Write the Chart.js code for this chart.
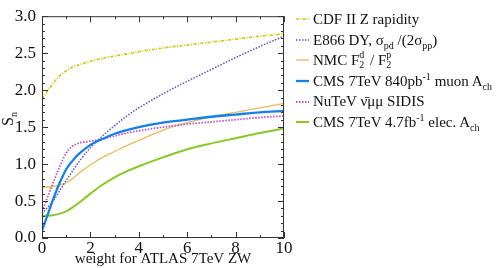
<!DOCTYPE html>
<html><head><meta charset="utf-8">
<script src="https://cdn.jsdelivr.net/npm/chart.js@4"></script>
<style>
html,body{margin:0;padding:0;background:#fff;}
#wrap{position:relative;width:498px;height:268px;font-family:"Liberation Serif","DejaVu Serif","Times New Roman",serif;color:#111;overflow:hidden;}
#c{position:absolute;left:0;top:0;}
#legend{position:absolute;left:296px;top:9px;font-size:15px;}
.row{height:20.6px;line-height:20.6px;display:flex;align-items:center;white-space:nowrap;}
.row svg{margin-right:4px;flex:none;}
sub,sup{font-size:10px;line-height:0;}
.ss{position:relative;display:inline-block;width:7px;height:10px;}
.ss .u,.ss .l{position:absolute;left:0;font-size:10px;line-height:10px;}
.ss .u{top:-5px;}
.ss .l{top:5px;}
#ytitle{position:absolute;left:1px;top:110px;font-size:16px;transform:rotate(-90deg);transform-origin:center;white-space:nowrap;}
</style></head>
<body>
<div id="wrap">
<canvas id="c" width="498" height="268"></canvas>
<div id="legend"></div>
<div id="ytitle">S<sub>n</sub></div>
</div>
<script>
const weights = [0,0.25,0.5,0.75,1,1.25,1.5,2,2.5,3,3.5,4,5,6,7,8,9,10];
const cdfZ    = [1.88,2.00,2.11,2.20,2.26,2.31,2.34,2.39,2.43,2.46,2.49,2.52,2.57,2.61,2.65,2.69,2.73,2.76];
const e866    = [0.33,0.42,0.52,0.65,0.78,0.90,1.02,1.22,1.38,1.52,1.65,1.76,1.95,2.12,2.28,2.44,2.59,2.73];
const nmc     = [0.69,0.69,0.70,0.72,0.75,0.80,0.87,0.99,1.09,1.17,1.25,1.32,1.46,1.56,1.64,1.70,1.76,1.82];
const cmsMu   = [0.10,0.33,0.56,0.76,0.93,1.04,1.13,1.26,1.34,1.41,1.46,1.50,1.56,1.60,1.64,1.67,1.70,1.72];
const nutev   = [0.36,0.57,0.78,0.98,1.15,1.24,1.28,1.31,1.34,1.38,1.42,1.45,1.50,1.54,1.57,1.60,1.63,1.65];
const cmsEl   = [0.30,0.30,0.31,0.33,0.36,0.41,0.47,0.60,0.72,0.82,0.90,0.97,1.09,1.20,1.28,1.35,1.42,1.48];
const yTicks  = [0,0.5,1,1.5,2,2.5,3];
const xTicks  = [0,2,4,6,8,10];
const legendHtml = [
  'CDF II Z rapidity',
  'E866 DY, &sigma;<sub>pd</sub> /(2&sigma;<sub>pp</sub>)',
  'NMC F<span class="ss"><span class="u">d</span><span class="l">2</span></span> / F<span class="ss"><span class="u">p</span><span class="l">2</span></span>',
  'CMS 7TeV 840pb<sup>-1</sup> muon A<sub>ch</sub>',
  'NuTeV &nu;&#772;&mu;&mu; SIDIS',
  'CMS 7TeV 4.7fb<sup>-1</sup> elec. A<sub>ch</sub>'
];
const seriesList = [cdfZ, e866, nmc, cmsMu, nutev, cmsEl];
const styles = [
  {color:'#c9c900', width:1.6, dash:[3,1.5,1,1.5]},
  {color:'#5c54cc', width:1.5, dash:[1.5,1.5]},
  {color:'#e9bb62', width:1.3, dash:[]},
  {color:'#1580e8', width:2.3, dash:[]},
  {color:'#c44fc4', width:1.8, dash:[1.5,1.5]},
  {color:'#88c926', width:2.0, dash:[]}
];
const FONT = "'Liberation Serif', 'DejaVu Serif', 'Times New Roman', serif";
const datasets = seriesList.map((s,i)=>({
  label:'s'+i,
  data: weights.map((w,j)=>({x:w,y:s[j]})),
  borderColor: styles[i].color,
  borderWidth: styles[i].width,
  borderDash: styles[i].dash,
  pointRadius:0,
  fill:false,
  cubicInterpolationMode:'monotone'
}));
const drawOrder = [5,2,4,1,3,0];
drawOrder.forEach((d,k)=>{datasets[d].order = 6-k;});

const frame = {
  id:'frame',
  afterDatasetsDraw(chart){
    const {ctx, chartArea:a, scales:{x,y}} = chart;
    ctx.save();
    ctx.strokeStyle='#333'; ctx.lineWidth=1;
    ctx.strokeRect(a.left+0.5,a.top+0.5,a.right-a.left-1,a.bottom-a.top-1);
    ctx.beginPath();
    for(let v=0; v<=10; v++){
      const px = Math.round(x.getPixelForValue(v))+0.5;
      const L = v%2===0?6:3;
      ctx.moveTo(px,a.bottom); ctx.lineTo(px,a.bottom-L);
      ctx.moveTo(px,a.top); ctx.lineTo(px,a.top+L);
    }
    for(let k=0; k<=30; k++){
      const v = k/10;
      const py = Math.round(y.getPixelForValue(v))+0.5;
      const L = k%5===0?6:3;
      ctx.moveTo(a.left,py); ctx.lineTo(a.left+L,py);
      ctx.moveTo(a.right,py); ctx.lineTo(a.right-L,py);
    }
    ctx.stroke();
    ctx.restore();
  }
};

const chart = new Chart(document.getElementById('c'), {
  type:'line',
  data:{datasets},
  options:{
    responsive:false, animation:false, devicePixelRatio:1,
    layout:{padding:{left:0,top:9,right:214,bottom:0}},
    plugins:{legend:{display:false}, tooltip:{enabled:false}},
    scales:{
      x:{type:'linear', min:0, max:10,
        afterBuildTicks(s){ s.ticks = xTicks.map(v=>({value:v})); },
        afterFit(s){ s.height = 30; },
        ticks:{padding:0, color:'#111', font:{family:FONT, size:17}, maxRotation:0,
          callback:v=>String(v)},
        grid:{display:false, drawTicks:false},
        border:{display:false},
        title:{display:true, text:'weight for ATLAS 7TeV ZW', color:'#111', font:{family:FONT, size:15}, padding:{top:0,bottom:0}}
      },
      y:{min:0, max:3,
        afterBuildTicks(s){ s.ticks = yTicks.map(v=>({value:v})); },
        afterFit(s){ s.width = 42; },
        ticks:{padding:6, color:'#111', font:{family:FONT, size:17}, callback:v=>v.toFixed(1)},
        grid:{display:false, drawTicks:false},
        border:{display:false}
      }
    }
  },
  plugins:[frame]
});

const leg = document.getElementById('legend');
styles.forEach((st,i)=>{
  const row = document.createElement('div'); row.className='row';
  const dash = st.dash.length? `stroke-dasharray="${st.dash.join(',')}"` : '';
  row.innerHTML = `<svg width="13" height="6"><line x1="0" y1="3" x2="13" y2="3" stroke="${st.color}" stroke-width="${st.width}" ${dash}/></svg><span>${legendHtml[i]}</span>`;
  leg.appendChild(row);
});
</script>
</body></html>
